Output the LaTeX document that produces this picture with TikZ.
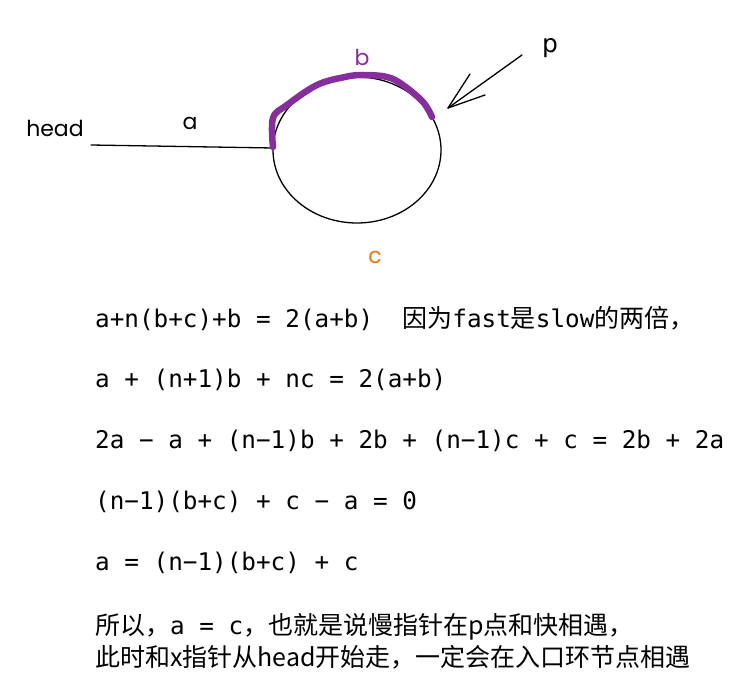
\documentclass[tikz,border=0pt]{standalone}
\usepackage{fontspec}
\usetikzlibrary{shapes.geometric}
\setmainfont{DejaVu Sans}
\newfontfamily\mono{DejaVu Sans Mono}
\newfontfamily\cjkfam{Noto Sans CJK SC}
\newcommand\zh{\cjkfam\fontsize{25}{25}\selectfont}
\newfontfamily\hand{Poppins}
\definecolor{bpurple}{HTML}{862E9C}
\definecolor{corange}{HTML}{E8730C}
\begin{document}
\begin{tikzpicture}[x=1pt,y=-1pt,
  eq/.style={anchor=base west,inner sep=0pt,font=\fontsize{24.3}{24.3}\selectfont},
  lbl/.style={inner sep=0pt,font=\hand\fontsize{22}{22}\selectfont},
  sketch/.style={line width=1.3pt,line cap=round,line join=round}]
\useasboundingbox (0,0) rectangle (737,687);
% loop
\node[draw,sketch,ellipse,minimum width=168pt,minimum height=146pt,inner sep=0pt] (loop) at (357,150) {};
\coordinate (hstart) at (91,145);
\coordinate (entry) at (273,148);
\draw[sketch] (hstart) -- (entry);
% purple arc b
\draw[bpurple,line width=6.5pt,line cap=round,line join=round]
  plot[smooth,tension=0.6] coordinates {(273,147) (273,118) (287,105) (317,85) (345,77) (363,75) (387,77) (403,85) (423,102) (432,117)};
% arrow p
\coordinate (ps) at (522,55);
\coordinate (pt) at (448,108);
\coordinate (ph1) at (470,74);
\coordinate (ph2) at (485,95);
\draw[sketch] (ps) -- (pt);
\draw[sketch] (ph1) -- (pt) -- (ph2);
% labels
\node[lbl] (head) at (55,128) {head};
\node[lbl] (la) at (190,123) {a};
\node[lbl,text=bpurple] (lb) at (362,57) {b};
\node[lbl,text=corange] (lc) at (375,257) {c};
\node[inner sep=0pt,font=\fontsize{25}{25}\selectfont] (lp) at (550,48) {p};
% equations
\node[eq] (e1) at (95,327) {\mono a+n(b+c)+b = 2(a+b)\ \ {\zh 因为}fast{\zh 是}slow{\zh 的两倍，}};
\node[eq] (e2) at (95,388) {\mono a + (n+1)b + nc = 2(a+b)};
\node[eq] (e3) at (95,448) {\mono 2a − a + (n−1)b + 2b + (n−1)c + c = 2b + 2a};
\node[eq] (e4) at (95,509) {\mono (n−1)(b+c) + c − a = 0};
\node[eq] (e5) at (95,570) {\mono a = (n−1)(b+c) + c};
\node[eq] (e6) at (95,634) {{\zh 所以，}{\mono a = c}{\zh ，也就是说慢指针在p点和快相遇，}};
\node[eq] (e7) at (95,666) {\zh 此时和x指针从head开始走，一定会在入口环节点相遇};
\end{tikzpicture}
\end{document}
